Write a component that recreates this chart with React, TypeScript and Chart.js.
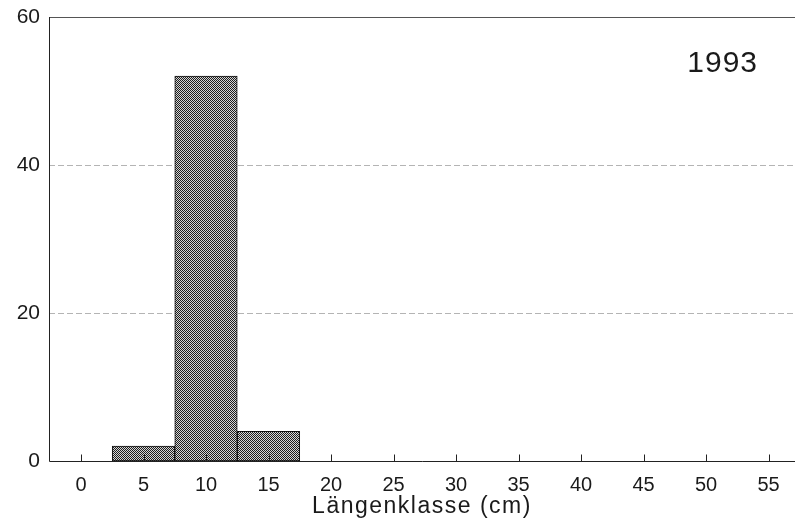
import React, { useEffect, useRef } from "react";
import { Chart, registerables } from "chart.js";

Chart.register(...registerables);

const LENGTH_CLASSES = [0, 5, 10, 15, 20, 25, 30, 35, 40, 45, 50, 55];
const COUNTS = [0, 2, 52, 4, 0, 0, 0, 0, 0, 0, 0, 0];
const Y_TICKS = [0, 20, 40, 60];
const YEAR_LABEL = "1993";
const X_TITLE = "Längenklasse (cm)";

const FONT = "'Liberation Sans', Arial, Helvetica, sans-serif";

function makePattern(): CanvasPattern | string {
  const pc = document.createElement("canvas");
  pc.width = 2;
  pc.height = 2;
  const c = pc.getContext("2d");
  if (!c) return "#777";
  c.fillStyle = "#d6d6d6";
  c.fillRect(0, 0, 2, 2);
  c.fillStyle = "#1e1e1e";
  c.fillRect(0, 0, 1, 1);
  c.fillRect(1, 1, 1, 1);
  const p = c.createPattern(pc, "repeat");
  return p || "#777";
}

const framePlugin = {
  id: "frame",
  beforeDatasetsDraw(chart: any) {
    const { ctx, chartArea, scales } = chart;
    const y = scales.y;
    ctx.save();
    Y_TICKS.forEach((v) => {
      if (v === 0) return;
      const py = Math.round(y.getPixelForValue(v)) + 0.5;
      ctx.beginPath();
      if (v === 60) {
        ctx.setLineDash([]);
        ctx.strokeStyle = "#555";
      } else {
        ctx.setLineDash([6, 3]);
        ctx.strokeStyle = "#b4b4b4";
      }
      ctx.lineWidth = 1;
      ctx.moveTo(chartArea.left, py);
      ctx.lineTo(chartArea.right, py);
      ctx.stroke();
    });
    ctx.restore();
  },
  afterDatasetsDraw(chart: any) {
    const { ctx, chartArea, scales } = chart;
    const x = scales.x;
    ctx.save();
    ctx.setLineDash([]);
    ctx.strokeStyle = "#222";
    ctx.lineWidth = 1;
    const left = Math.round(chartArea.left) + 0.5;
    const bottom = Math.round(chartArea.bottom) + 0.5;
    ctx.beginPath();
    ctx.moveTo(left, chartArea.top);
    ctx.lineTo(left, bottom);
    ctx.lineTo(chartArea.right, bottom);
    ctx.stroke();
    LENGTH_CLASSES.forEach((v) => {
      const px = Math.round(x.getPixelForValue(v)) + 0.5;
      ctx.beginPath();
      ctx.moveTo(px, bottom);
      ctx.lineTo(px, bottom - 7);
      ctx.stroke();
    });
    ctx.fillStyle = "#1a1a1a";
    ctx.font = `30px ${FONT}`;
    ctx.textAlign = "right";
    ctx.textBaseline = "middle";
    (ctx as any).letterSpacing = "1px";
    ctx.fillText(YEAR_LABEL, 758, 64);
    ctx.font = `23px ${FONT}`;
    ctx.textAlign = "center";
    (ctx as any).letterSpacing = "1.5px";
    ctx.fillText(X_TITLE, (chartArea.left + chartArea.right) / 2, 507);
    ctx.restore();
  },
};

export default function App() {
  const ref = useRef<HTMLCanvasElement | null>(null);
  useEffect(() => {
    if (!ref.current) return;
    const pattern = makePattern();
    const data = LENGTH_CLASSES.map((c, i) => ({ x: c, y: COUNTS[i] })).filter(
      (d) => d.y > 0
    );
    const chart = new Chart(ref.current, {
      type: "bar",
      data: {
        datasets: [
          {
            data: data as any,
            backgroundColor: pattern as any,
            borderColor: "#111",
            borderWidth: 1,
            barPercentage: 1,
            categoryPercentage: 1,
            borderSkipped: false,
          },
        ],
      },
      options: {
        animation: false,
        responsive: false,
        layout: { padding: { top: 17, left: 0, right: 0, bottom: 0 } },
        plugins: {
          legend: { display: false },
          tooltip: { enabled: false },
          title: { display: false },
        },
        scales: {
          x: {
            type: "linear",
            offset: false,
            min: -2.56,
            max: 57.12,
            grid: { display: false },
            border: { display: false },
            ticks: {
              autoSkip: false,
              maxRotation: 0,
              padding: 4,
              color: "#1a1a1a",
              font: { family: FONT, size: 20 },
              callback: (v: any) => String(v),
            },
            afterBuildTicks: (scale: any) => {
              scale.ticks = LENGTH_CLASSES.map((v) => ({ value: v }));
            },
            afterFit: (scale: any) => {
              scale.height = 68;
            },
          },
          y: {
            min: 0,
            max: 60,
            grid: { display: false },
            border: { display: false },
            ticks: {
              padding: 1,
              color: "#1a1a1a",
              font: { family: FONT, size: 21 },
            },
            afterBuildTicks: (scale: any) => {
              scale.ticks = Y_TICKS.map((v) => ({ value: v }));
            },
            afterFit: (scale: any) => {
              scale.width = 49;
            },
          },
        },
      },
      plugins: [framePlugin],
    });
    return () => chart.destroy();
  }, []);
  return (
    <div
      style={{
        position: "fixed",
        left: 0,
        top: 0,
        width: 795,
        height: 529,
        background: "#fff",
        overflow: "hidden",
      }}
    >
      <canvas ref={ref} width={795} height={529} style={{ display: "block" }} />
    </div>
  );
}
